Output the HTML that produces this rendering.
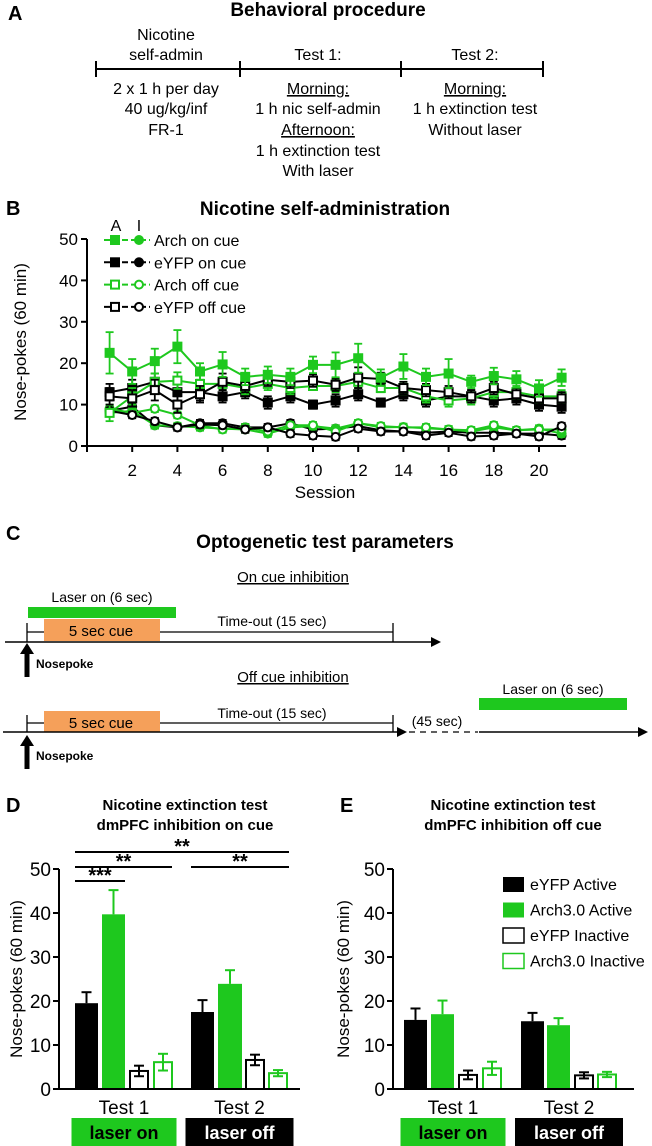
<!DOCTYPE html>
<html><head><meta charset="utf-8"><style>
html,body{margin:0;padding:0;background:#fff;}
svg{display:block;font-family:"Liberation Sans",Arial,sans-serif;}
</style></head><body>
<svg id="fig" width="652" height="1146" viewBox="0 0 652 1146" xmlns="http://www.w3.org/2000/svg">
<!-- Panel A -->
<g>
<text x="8" y="20" font-size="20" font-weight="bold">A</text>
<text x="328" y="16" font-size="19" font-weight="bold" text-anchor="middle">Behavioral procedure</text>
<g stroke="#000" stroke-width="2">
<line x1="96" y1="69" x2="543" y2="69"/>
<line x1="96" y1="61" x2="96" y2="77"/><line x1="240" y1="61" x2="240" y2="77"/>
<line x1="401" y1="61" x2="401" y2="77"/><line x1="543" y1="61" x2="543" y2="77"/>
</g>
<g font-size="16" text-anchor="middle">
<text x="166" y="40">Nicotine</text><text x="166" y="60">self-admin</text>
<text x="318" y="60">Test 1:</text><text x="475" y="60">Test 2:</text>
<text x="166" y="94">2 x 1 h per day</text><text x="166" y="114">40 ug/kg/inf</text><text x="166" y="135">FR-1</text>
<text x="318" y="94" text-decoration="underline">Morning:</text><text x="318" y="114">1 h nic self-admin</text>
<text x="318" y="135" text-decoration="underline">Afternoon:</text><text x="318" y="156">1 h extinction test</text><text x="318" y="176">With laser</text>
<text x="475" y="94" text-decoration="underline">Morning:</text><text x="475" y="114">1 h extinction test</text><text x="475" y="135">Without laser</text>
</g>
</g>
<!-- Panel B -->
<g id="panelB">
<text x="6" y="215" font-size="20" font-weight="bold">B</text>
<text x="325" y="215" font-size="19" font-weight="bold" text-anchor="middle">Nicotine self-administration</text>
<text x="116" y="231" font-size="16" text-anchor="middle">A</text>
<text x="139" y="231" font-size="16" text-anchor="middle">I</text>
<text transform="translate(26,342) rotate(-90)" font-size="17" text-anchor="middle">Nose-pokes (60 min)</text>
<text x="325" y="498" font-size="17" text-anchor="middle">Session</text>
</g>
<!-- Panel C -->
<g>
<text x="6" y="540" font-size="20" font-weight="bold">C</text>
<text x="325" y="548" font-size="19" font-weight="bold" text-anchor="middle">Optogenetic test parameters</text>
<text x="293" y="582" font-size="15" text-anchor="middle" text-decoration="underline">On cue inhibition</text>
<text x="102" y="602" font-size="14" text-anchor="middle">Laser on (6 sec)</text>
<rect x="28" y="607" width="148" height="11" fill="#1ec81e"/>
<line x1="27" y1="632" x2="393" y2="632" stroke="#000" stroke-width="1.3"/>
<line x1="27" y1="623" x2="27" y2="642" stroke="#000" stroke-width="1.3"/>
<line x1="393" y1="623" x2="393" y2="642" stroke="#000" stroke-width="1.3"/>
<rect x="44" y="619" width="116" height="22" fill="#f5a05a"/>
<text x="101" y="636" font-size="15" text-anchor="middle">5 sec cue</text>
<text x="272" y="626" font-size="14" text-anchor="middle">Time-out (15 sec)</text>
<line x1="5" y1="642" x2="432" y2="642" stroke="#000" stroke-width="1.5"/>
<polygon points="431,637 441,642 431,647" fill="#000"/>
<line x1="27" y1="652" x2="27" y2="677" stroke="#000" stroke-width="5"/>
<polygon points="20,654 27,643 34,654" fill="#000"/>
<text x="36" y="668" font-size="12" font-weight="bold">Nosepoke</text>

<text x="293" y="682" font-size="15" text-anchor="middle" text-decoration="underline">Off cue inhibition</text>
<line x1="27" y1="723" x2="393" y2="723" stroke="#000" stroke-width="1.3"/>
<line x1="27" y1="715" x2="27" y2="732" stroke="#000" stroke-width="1.3"/>
<line x1="393" y1="715" x2="393" y2="732" stroke="#000" stroke-width="1.3"/>
<rect x="44" y="711" width="116" height="21" fill="#f5a05a"/>
<text x="101" y="728" font-size="15" text-anchor="middle">5 sec cue</text>
<text x="272" y="718" font-size="14" text-anchor="middle">Time-out (15 sec)</text>
<line x1="3" y1="732" x2="398" y2="732" stroke="#000" stroke-width="1.5"/>
<polygon points="397,727 407,732 397,737" fill="#000"/>
<line x1="409" y1="732" x2="478" y2="732" stroke="#000" stroke-width="1.3" stroke-dasharray="6,5"/>
<text x="437" y="726" font-size="14" text-anchor="middle">(45 sec)</text>
<line x1="479" y1="732" x2="640" y2="732" stroke="#000" stroke-width="1.5"/>
<polygon points="638,727 648,732 638,737" fill="#000"/>
<rect x="479" y="698" width="148" height="12" fill="#1ec81e"/>
<text x="553" y="694" font-size="14" text-anchor="middle">Laser on (6 sec)</text>
<line x1="27" y1="744" x2="27" y2="769" stroke="#000" stroke-width="5"/>
<polygon points="20,746 27,735 34,746" fill="#000"/>
<text x="36" y="760" font-size="12" font-weight="bold">Nosepoke</text>
</g>
<!-- Panel D / E -->
<g>
<text x="6" y="812" font-size="20" font-weight="bold">D</text>
<text x="185" y="810" font-size="15" font-weight="bold" text-anchor="middle">Nicotine extinction test</text>
<text x="185" y="830" font-size="15" font-weight="bold" text-anchor="middle">dmPFC inhibition on cue</text>
<text transform="translate(22,979) rotate(-90)" font-size="17" text-anchor="middle">Nose-pokes (60 min)</text>
</g>
<g>
<text x="340" y="812" font-size="20" font-weight="bold">E</text>
<text x="513" y="810" font-size="15" font-weight="bold" text-anchor="middle">Nicotine extinction test</text>
<text x="513" y="830" font-size="15" font-weight="bold" text-anchor="middle">dmPFC inhibition off cue</text>
<text transform="translate(349,979) rotate(-90)" font-size="17" text-anchor="middle">Nose-pokes (60 min)</text>
</g>
</svg>
<script>
const NS="http://www.w3.org/2000/svg";
const G="#1ec81e";
// ---- Panel B data ----
const sessions=[1,2,3,4,5,6,7,8,9,10,11,12,13,14,15,16,17,18,19,20,21];
const xTicks=[2,4,6,8,10,12,14,16,18,20];
const yTicksB=[0,10,20,30,40,50];
const archOnA=[22.5,18,20.5,24,18,19.7,16.7,17.2,16.7,19.6,19.6,21.2,16.5,19.2,16.7,17.5,15.5,16.9,16.1,13.9,16.5];
const archOnAErr=[5,3,3,4,2,3,2,2,2,2,3,3.5,2,3,2,3.5,1.5,2,2,2,2];
const archOnI=[8,8.5,5,4.8,4.5,4.2,4,3,4.5,4.8,4.2,5.5,4.5,4.6,4.3,4,3.5,4.5,3.8,4.2,3];
const eyfpOnA=[13,14,15.5,13,13,12,13,10.5,12,10,11,12.5,10.5,12.5,11,12,12,11,11.5,10,9.5];
const eyfpOnAErr=[2,2,2,2,2,1.5,1.5,1.5,1.5,1,1.5,1.5,1,1.5,1.5,1.5,1.5,1.5,1.5,1.5,1.5];
const eyfpOnI=[8.5,9.5,5,4.5,5.5,5.5,4.5,4.5,5.5,4,4.2,4.8,3.8,3.5,3.2,3.5,3.2,3.2,3,3,2.5];
const archOffA=[8,12,15.5,15.8,15,15,14,15,14,14.5,14.5,15.5,14,14,12,11,11.5,13,13,12,12];
const archOffI=[9,8,9,7.5,5,4,4.5,3.5,5,5,3.5,5.5,4.8,4.5,4.5,4,3.8,5,3.8,4,4];
const eyfpOffA=[12,11.5,13.5,10,12.5,15.5,14.5,16,15.5,15.8,14.8,16.5,16.2,14,13.5,13,12,14,12.5,11.5,11.5];
const eyfpOffAErr=[2,2,2.5,2,2,2,1.5,1.5,1.5,1.5,1.5,2.5,1.5,1.5,1.5,1.5,1.5,1.5,1.5,1.5,1.5];
const eyfpOffI=[8.5,7.5,6,4.5,5.2,5,4,4.5,3,2.5,2.2,4.2,3.5,3.5,2.5,3.2,2.3,2.5,3,2.3,4.8];
// ---- Panel D/E data ----
const groups=["Test 1","Test 2"];
const dValues=[[19.5,39.7,4.1,6.1],[17.5,23.9,6.6,3.6]];
const dErrors=[[2.5,5.5,1.2,1.9],[2.7,3.1,1.2,0.7]];
const eValues=[[15.7,17.0,3.2,4.7],[15.4,14.5,3.1,3.3]];
const eErrors=[[2.6,3.1,1.0,1.5],[1.9,1.6,0.7,0.6]];
const legendLabels=["eYFP Active","Arch3.0 Active","eYFP Inactive","Arch3.0 Inactive"];
const yTicksDE=[0,10,20,30,40,50];

const svg=document.getElementById('fig');
function el(tag,attrs,parent){const e=document.createElementNS(NS,tag);for(const k in attrs)e.setAttribute(k,attrs[k]);(parent||svg).appendChild(e);return e;}

// Panel B axes
const bx=s=>87+(s)*22.6, by=v=>446-v*4.14;
const pb=document.getElementById('panelB');
const ax=el('g',{stroke:'#000','stroke-width':2},pb);


el('line',{x1:87,y1:by(50),x2:87,y2:by(0)+1},ax);
el('line',{x1:86,y1:by(0),x2:bx(21.2),y2:by(0)},ax);
yTicksB.forEach(t=>{el('line',{x1:81,y1:by(t),x2:87,y2:by(t)},ax);
 const tx=el('text',{x:78,y:by(t)+6,'font-size':17,'text-anchor':'end',stroke:'none'},pb);tx.textContent=t;
 
 });
[0].concat(xTicks).forEach(t=>{el('line',{x1:bx(t),y1:by(0),x2:bx(t),y2:by(0)+6},ax);});
xTicks.forEach(t=>{const tx=el('text',{x:bx(t),y:476,'font-size':17,'text-anchor':'middle'},pb);tx.textContent=t;
 
 });

function series(vals,errs,color,shape,filled,name){
  const g=el('g',{},pb);
  
  
  el('polyline',{points:vals.map((v,i)=>bx(sessions[i])+','+by(v)).join(' '),fill:'none',stroke:color,'stroke-width':2},g);
  vals.forEach((v,i)=>{const x=bx(sessions[i]),y=by(v);
    const e=errs?errs[i]:0.8;
    el('line',{x1:x,y1:by(v+e),x2:x,y2:by(v-e),stroke:color,'stroke-width':1.8},g);
    el('line',{x1:x-4,y1:by(v+e),x2:x+4,y2:by(v+e),stroke:color,'stroke-width':1.8},g);
    el('line',{x1:x-4,y1:by(v-e),x2:x+4,y2:by(v-e),stroke:color,'stroke-width':1.8},g);
    if(shape==='sq')el('rect',{x:x-4,y:y-4,width:8,height:8,fill:filled?color:'#fff',stroke:color,'stroke-width':2},g);
    else el('circle',{cx:x,cy:y,r:4,fill:filled?color:'#fff',stroke:color,'stroke-width':2},g);
  });
}
series(eyfpOnI,null,'#000','c',true,'series-eyfp-on-cue-inactive');
series(archOnI,null,G,'c',true,'series-arch-on-cue-inactive');
series(archOffI,null,G,'c',false,'series-arch-off-cue-inactive');
series(eyfpOffI,null,'#000','c',false,'series-eyfp-off-cue-inactive');
series(eyfpOnA,eyfpOnAErr,'#000','sq',true,'series-eyfp-on-cue-active');
series(archOffA,eyfpOnAErr,G,'sq',false,'series-arch-off-cue-active');
series(eyfpOffA,eyfpOffAErr,'#000','sq',false,'series-eyfp-off-cue-active');
series(archOnA,archOnAErr,G,'sq',true,'series-arch-on-cue-active');
// legend B
const legB=[["Arch on cue",G,true],["eYFP on cue","#000",true],["Arch off cue",G,false],["eYFP off cue","#000",false]];
legB.forEach((d,i)=>{const y=240+i*22.3;const g=el('g',{},pb);
 
 
 el('line',{x1:104,y1:y,x2:150,y2:y,stroke:d[1],'stroke-width':2,'stroke-dasharray':'6,3'},g);
 el('rect',{x:111,y:y-4,width:8,height:8,fill:d[2]?d[1]:'#fff',stroke:d[1],'stroke-width':2},g);
 el('circle',{cx:139,cy:y,r:4,fill:d[2]?d[1]:'#fff',stroke:d[1],'stroke-width':2},g);
 const t=el('text',{x:154,y:y+6,'font-size':16},g);t.textContent=d[0];});

// Panels D/E bars
const colors=[['#000','#000'],[G,G],['#fff','#000'],['#fff',G]];
function barPanel(x0,xEnd,barX,vals,errs,name){
  const yy=v=>1089-v*4.4;
  const g=el('g',{});
  
  
  groups.forEach((grp,gi)=>{vals[gi].forEach((v,k)=>{
    const bxl=barX[gi][k],w=barX[gi][k+4];
    const c=colors[k];const inner=k>=2;
    const r=el('rect',{x:bxl+(inner?1:0),y:yy(v),width:w-(inner?2:0),height:yy(0)-yy(v),fill:c[0],stroke:inner?c[1]:'none','stroke-width':inner?2:0},g);
    
    
    const cx=bxl+w/2,top=yy(v+errs[gi][k]),lc=k===1?G:c[1];
    el('line',{x1:cx,y1:yy(v),x2:cx,y2:top,stroke:lc,'stroke-width':2},g);
    el('line',{x1:cx-5,y1:top,x2:cx+5,y2:top,stroke:lc,'stroke-width':2},g);
    if(inner){const bot=yy(v-errs[gi][k]);el('line',{x1:cx,y1:yy(v),x2:cx,y2:bot,stroke:lc,'stroke-width':2},g);el('line',{x1:cx-5,y1:bot,x2:cx+5,y2:bot,stroke:lc,'stroke-width':2},g);}
  });});
  el('line',{x1:x0,y1:yy(50),x2:x0,y2:yy(0)+1,stroke:'#000','stroke-width':2},g);
  el('line',{x1:x0-1,y1:yy(0),x2:xEnd,y2:yy(0),stroke:'#000','stroke-width':2},g);
  yTicksDE.forEach(t=>{el('line',{x1:x0-6,y1:yy(t),x2:x0,y2:yy(t),stroke:'#000','stroke-width':2},g);
    const tx=el('text',{x:x0-8,y:yy(t)+7,'font-size':19,'text-anchor':'end'},g);tx.textContent=t;});
  const labs=[["laser on",G,'#000'],["laser off",'#000','#fff']];
  groups.forEach((grp,gi)=>{const gx0=barX[gi][0],gx1=barX[gi][3]+barX[gi][7];const c=(gx0+gx1)/2;
    const tx=el('text',{x:c,y:1114,'font-size':19,'text-anchor':'middle'},g);tx.textContent=grp;
    const bw=gi===0?105:108;
    const rr=el('rect',{x:c-bw/2,y:1118,width:bw,height:28,fill:labs[gi][1]},g);
    
    
    const lt=el('text',{x:c,y:1139,'font-size':18,'font-weight':'bold','text-anchor':'middle',fill:labs[gi][2]},g);lt.textContent=labs[gi][0];});
}
barPanel(59,300,[[75,102,129,153,23,23,20,20],[191,218,245,268,23,24,20,20]],dValues,dErrors,'chart-d');
barPanel(393,634,[[404,431,458,482,23,23,20,20],[521,547,574,597,23,23,20,20]],eValues,eErrors,'chart-e');
// Significance D
const sig=[[75,289,852,'**'],[75,172,867,'**'],[191,289,867,'**'],[75,125,881,'***']];
sig.forEach(s=>{const g=el('g',{});
 
 
 el('line',{x1:s[0],y1:s[2],x2:s[1],y2:s[2],stroke:'#000','stroke-width':2},g);
 const t=el('text',{x:(s[0]+s[1])/2,y:s[2]+1,'font-size':20,'font-weight':'bold','text-anchor':'middle'},g);t.textContent=s[3];});
// Legend E
legendLabels.forEach((l,k)=>{const y=884+k*25.5;const g=el('g',{});
 
 
 const inner=k>=2;
 el('rect',{x:503,y:y-7,width:21,height:15,fill:colors[k][0],stroke:inner?colors[k][1]:'none','stroke-width':inner?1.5:0},g);
 const t=el('text',{x:530,y:y+6,'font-size':16},g);t.textContent=l;});
</script>
</body></html>
